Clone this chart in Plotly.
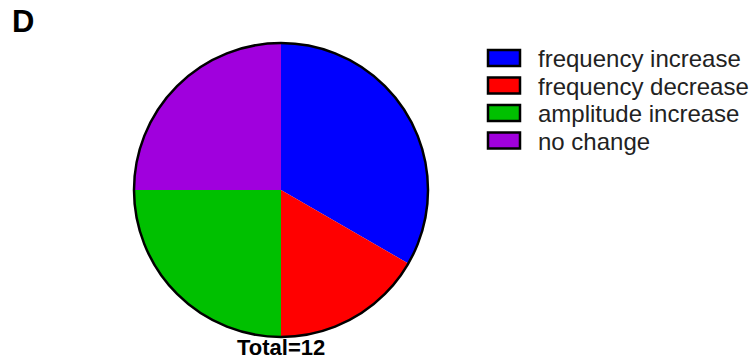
import plotly.graph_objects as go

# Response categories and cell counts
categories = ["frequency increase", "frequency decrease", "amplitude increase", "no change"]
counts = [4, 2, 3, 3]
colors = ["#0000FF", "#FF0000", "#00C000", "#A000DD"]

W, H = 755, 362
FONT = "Liberation Sans, Arial, sans-serif"

# Pie placement in pixels (centre and radius)
cx, cy, r = 281, 190, 147

def px(x):
    return x / W

def py(y):
    return (H - y) / H

fig = go.Figure()
fig.add_trace(go.Pie(
    labels=categories,
    values=counts,
    sort=False,
    direction="clockwise",
    rotation=0,
    marker=dict(colors=colors, line=dict(width=0)),
    textinfo="none",
    hoverinfo="label+value+percent",
    showlegend=False,
    domain=dict(x=[px(cx - r), px(cx + r)], y=[py(cy + r), py(cy - r)]),
))

shapes = [
    # outer outline of the pie
    dict(type="circle", xref="paper", yref="paper",
         x0=px(cx - r), x1=px(cx + r), y0=py(cy + r), y1=py(cy - r),
         line=dict(color="black", width=2.5), fillcolor="rgba(0,0,0,0)"),
]
annotations = [
    dict(text="<b>D</b>", x=px(10), y=py(22), xref="paper", yref="paper",
         xanchor="left", yanchor="middle", showarrow=False,
         font=dict(family=FONT, size=31, color="black")),
    dict(text="<b>Total=%d</b>" % sum(counts), x=px(cx), y=0, xref="paper", yref="paper",
         xanchor="center", yanchor="bottom", showarrow=False,
         font=dict(family=FONT, size=22, color="black")),
]

# Legend: coloured boxes with black outline and labels
row0, step = 58, 27.5
for i, (name, col) in enumerate(zip(categories, colors)):
    yc = row0 + i * step
    shapes.append(dict(type="rect", xref="paper", yref="paper",
                       x0=px(488), x1=px(520), y0=py(yc + 8), y1=py(yc - 8),
                       line=dict(color="black", width=2.5), fillcolor=col))
    annotations.append(dict(text=name, x=px(536), y=py(yc + 1), xref="paper", yref="paper",
                            xanchor="left", yanchor="middle", showarrow=False,
                            font=dict(family=FONT, size=24, color="#222222")))

fig.update_layout(
    width=W, height=H,
    margin=dict(l=0, r=0, t=0, b=0),
    paper_bgcolor="white",
    plot_bgcolor="white",
    shapes=shapes,
    annotations=annotations,
)

fig.write_html("out.html")
